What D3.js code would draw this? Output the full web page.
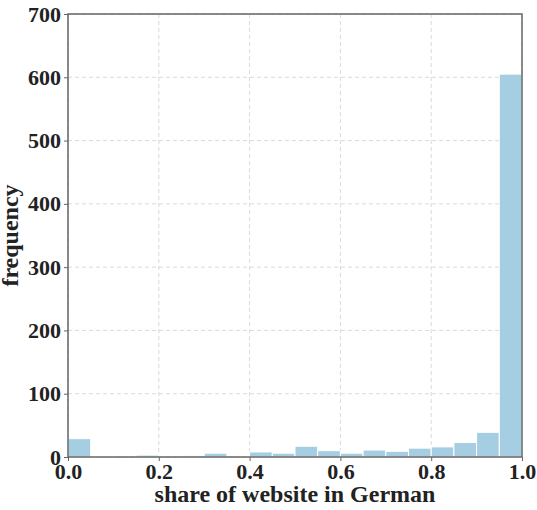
<!DOCTYPE html>
<html lang="en">
<head>
<meta charset="UTF-8">
<title>German share histogram</title>
<style>
  body { margin: 0; background: #fff; }
  text { font-family: "Liberation Serif", "Times New Roman", serif; font-weight: bold; fill: #222; }
</style>
</head>
<body>
<svg width="537" height="510"></svg>
<script src="https://d3js.org/d3.v7.min.js"></script>
<script>

  // histogram bins, width 0.05
  var binStarts = [0.00, 0.05, 0.10, 0.15, 0.20, 0.25, 0.30, 0.35, 0.40, 0.45,
                   0.50, 0.55, 0.60, 0.65, 0.70, 0.75, 0.80, 0.85, 0.90, 0.95];
  var counts = [29, 1, 0, 3, 0, 2, 6, 0, 8, 6,
                17, 10, 6, 11, 9, 14, 16, 23, 39, 605];
  var binWidth = 0.05;
  var xTicks = [0, 0.2, 0.4, 0.6, 0.8, 1.0];
  var yTicks = [0, 100, 200, 300, 400, 500, 600, 700];

  var margin = {top: 14, right: 15, bottom: 53, left: 68};
  var svgSel = d3.select("svg");
  var width = +svgSel.attr("width") - margin.left - margin.right;
  var height = +svgSel.attr("height") - margin.top - margin.bottom;

  var g = svgSel.append("g")
    .attr("transform", "translate(" + margin.left + "," + margin.top + ")");

  var x = d3.scaleLinear().domain([0, 1]).range([0, width]);
  var y = d3.scaleLinear().domain([0, 700]).range([height, 0]);

  // grid
  g.selectAll(".vgrid").data(xTicks).enter().append("line")
    .attr("x1", function(d) { return x(d); }).attr("x2", function(d) { return x(d); })
    .attr("y1", 0).attr("y2", height)
    .attr("stroke", "#d0d0d0").attr("stroke-dasharray", "4,3").attr("stroke-width", 0.8);
  g.selectAll(".hgrid").data(yTicks).enter().append("line")
    .attr("y1", function(d) { return y(d); }).attr("y2", function(d) { return y(d); })
    .attr("x1", 0).attr("x2", width)
    .attr("stroke", "#d0d0d0").attr("stroke-dasharray", "4,3").attr("stroke-width", 0.8);

  // bars
  g.selectAll(".bar").data(counts).enter().append("rect")
    .attr("x", function(d, i) { return x(binStarts[i]); })
    .attr("width", x(binWidth) - x(0))
    .attr("y", function(d) { return y(d); })
    .attr("height", function(d) { return y(0) - y(d); })
    .attr("fill", "#a6cee3")
    .attr("stroke", "#ffffff").attr("stroke-width", 1);

  // frame
  g.append("rect").attr("width", width).attr("height", height)
    .attr("fill", "none").attr("stroke", "#666").attr("stroke-width", 1.5);

  var xAxis = g.append("g").attr("transform", "translate(0," + height + ")")
    .call(d3.axisBottom(x).tickValues(xTicks).tickFormat(d3.format(".1f")).tickSize(4).tickSizeOuter(0).tickPadding(2));
  var yAxis = g.append("g")
    .call(d3.axisLeft(y).tickValues(yTicks).tickSize(4).tickSizeOuter(0).tickPadding(3));

  [xAxis, yAxis].forEach(function(a) {
    a.select(".domain").remove();
    a.selectAll(".tick line").attr("stroke", "#666");
    a.selectAll(".tick text").style("font-size", "22px").attr("font-family", null);
  });

  g.append("text")
    .attr("x", width / 2).attr("y", height + 45)
    .attr("text-anchor", "middle").style("font-size", "24px")
    .text("share of website in German");

  g.append("text")
    .attr("transform", "translate(-50," + (height / 2) + ") rotate(-90)")
    .attr("text-anchor", "middle").style("font-size", "24px")
    .text("frequency");

</script>
</body>
</html>
